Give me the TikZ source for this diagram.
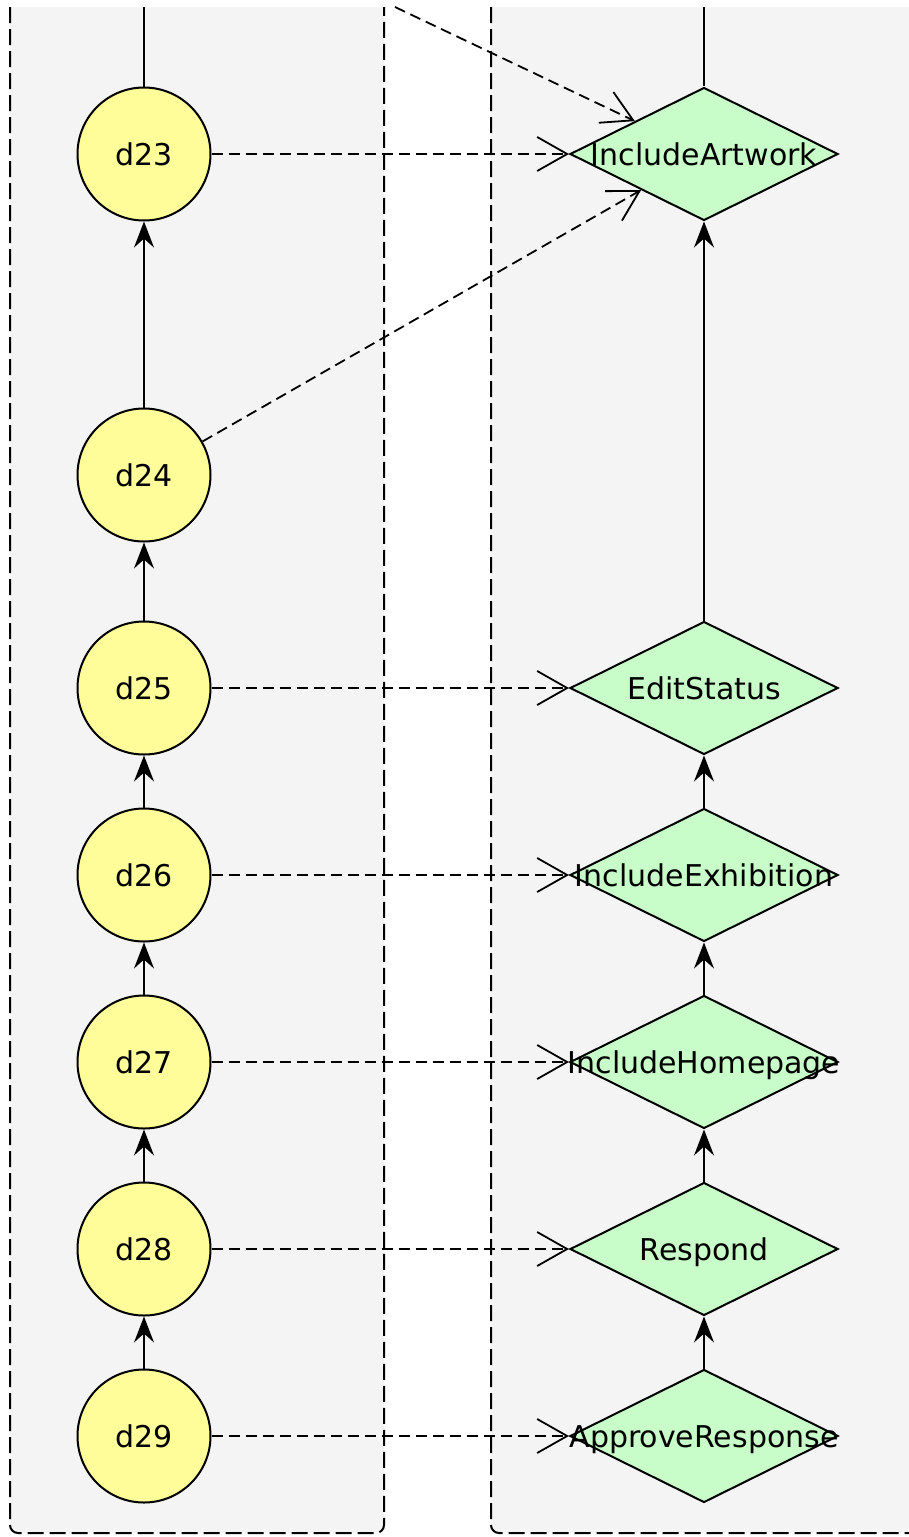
\documentclass[tikz,border=0pt]{standalone}
\usepackage{fontspec}
\setmainfont{DejaVu Sans}
\usepackage{tikz}
\usetikzlibrary{shapes.geometric}
\usetikzlibrary{arrows.meta}
\definecolor{lanegray}{HTML}{F4F4F4}
\definecolor{datayellow}{HTML}{FFFC9A}
\definecolor{actgreen}{HTML}{C8FCC8}
\tikzset{
  lane/.style={draw=black, fill=lanegray, line width=2pt, dash pattern=on 16pt off 6pt, rounded corners=8pt},
  datacirc/.style={shape=circle, draw=black, fill=datayellow, line width=2pt, inner sep=0pt, minimum size=133pt},
  actdiam/.style={shape=diamond, draw=black, fill=actgreen, line width=2pt, inner sep=0pt, minimum width=268pt, minimum height=133pt},
  flow/.style={line width=2pt, -{Stealth[length=26pt,width=20pt,inset=9pt]}},
  uses/.style={line width=1.8pt, dash pattern=on 11pt off 6pt, -{Straight Barb[length=30pt,width=34pt]}},
}
\newcommand{\datanode}[4]{\node[datacirc] (#1) at ( #2 , #3 ) {#4};}
\newcommand{\actnode}[4]{\node[actdiam, label={[inner sep=0pt, text height=22pt, text depth=0pt]center:{#4}}] (#1) at ( #2 , #3 ) {};}

\begin{document}
\begin{tikzpicture}[x=1pt, y=-1pt, font=\fontsize{30}{36}\selectfont]
            \clip (0,0) rectangle (909,1537);
            \fill[white] (0,0) rectangle (909,1537);
            % lanes
            \filldraw[lane] (10,7) -- (10,1533) -- (384,1533) -- (384,7);
            \filldraw[lane] (491,7) -- (491,1533) -- (930,1533) -- (930,7);

            % data column
            \datanode{d23}{144}{154}{d23}
            \datanode{d24}{144}{475}{d24}
            \datanode{d25}{144}{688}{d25}
            \datanode{d26}{144}{875}{d26}
            \datanode{d27}{144}{1062}{d27}
            \datanode{d28}{144}{1249}{d28}
            \datanode{d29}{144}{1436}{d29}

            % activity column
            \actnode{artwork}{704}{154}{IncludeArtwork}
            \actnode{status}{704}{688}{EditStatus}
            \actnode{exhibition}{704}{875}{IncludeExhibition}
            \actnode{homepage}{704}{1062}{IncludeHomepage}
            \actnode{respond}{704}{1249}{Respond}
            \actnode{approve}{704}{1436}{ApproveResponse}

            % ends coming from above
            \coordinate (dtop) at (144,7);
            \coordinate (atop) at (704,7);
            \coordinate (xtop) at (395,7);

            % flows
            \draw[line width=2pt] (dtop) -- (d23);
            \draw[line width=2pt] (atop) -- (artwork);
            \draw[flow] (d24) -- (d23);
            \draw[flow] (d25) -- (d24);
            \draw[flow] (d26) -- (d25);
            \draw[flow] (d27) -- (d26);
            \draw[flow] (d28) -- (d27);
            \draw[flow] (d29) -- (d28);
            \draw[flow] (status) -- (artwork);
            \draw[flow] (exhibition) -- (status);
            \draw[flow] (homepage) -- (exhibition);
            \draw[flow] (respond) -- (homepage);
            \draw[flow] (approve) -- (respond);

            % uses
            \draw[uses] (xtop) -- (artwork);
            \draw[uses] (d23) -- (artwork);
            \draw[uses] (d24) -- (artwork);
            \draw[uses] (d25) -- (status);
            \draw[uses] (d26) -- (exhibition);
            \draw[uses] (d27) -- (homepage);
            \draw[uses] (d28) -- (respond);
            \draw[uses] (d29) -- (approve);
        \end{tikzpicture}
\end{document}
